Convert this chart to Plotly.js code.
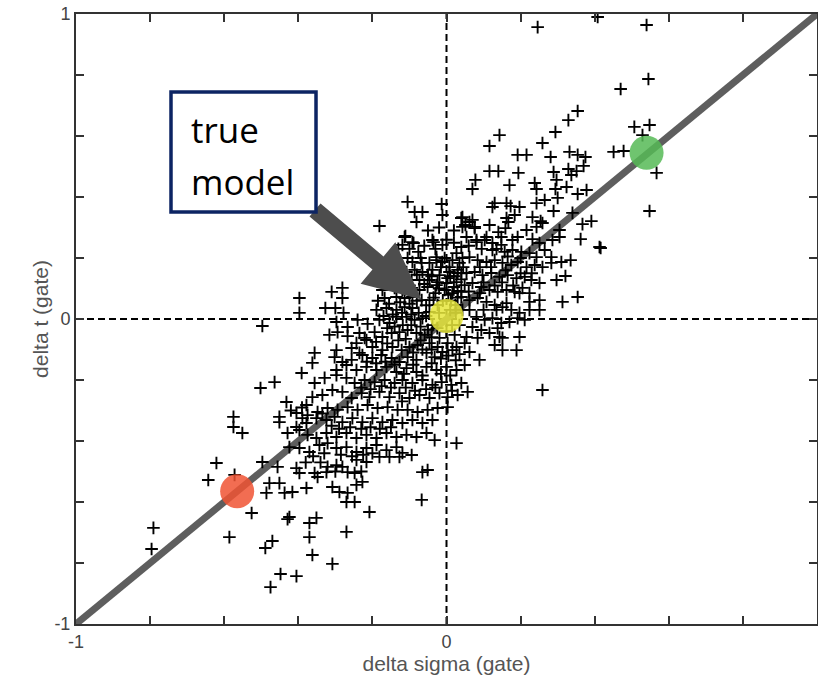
<!DOCTYPE html>
<html>
<head>
<meta charset="utf-8">
<script src="https://cdn.plot.ly/plotly-3.0.1.min.js"></script>
<style>
  html, body { margin: 0; padding: 0; background: #ffffff; }
  #chart { width: 818px; height: 677px; }
</style>
</head>
<body>
<div id="chart"></div>
<script>
// Ensemble of gate perturbations: [delta sigma, delta t]
const cloudPoints = [
  [0.246,0.957],[0.408,0.990],[0.540,0.964],[0.545,0.787],[0.470,0.754],[0.354,0.682],[0.329,0.652],[0.507,0.630],[0.548,0.636],[0.529,0.603],
  [0.451,0.548],[0.478,0.551],[0.567,0.479],[0.332,0.548],[0.354,0.538],[0.375,0.531],[0.329,0.492],[0.351,0.485],[0.370,0.502],[0.337,0.472],
  [0.324,0.433],[0.354,0.410],[0.378,0.423],[0.340,0.348],[0.367,0.311],[0.391,0.321],[0.362,0.262],[0.413,0.236],[0.548,0.354],[0.305,0.292],
  [0.305,0.269],[0.294,0.613],[0.143,0.603],[0.116,0.567],[0.259,0.577],[0.192,0.538],[0.216,0.538],[0.281,0.531],[0.116,0.485],[0.140,0.485],
  [0.194,0.479],[0.289,0.482],[0.078,0.456],[0.070,0.426],[0.170,0.439],[0.238,0.446],[0.243,0.426],[0.297,0.456],[0.294,0.426],[0.300,0.397],
  [0.265,0.390],[0.243,0.380],[0.130,0.380],[0.124,0.367],[0.162,0.380],[0.173,0.370],[0.197,0.367],[0.289,0.354],[0.162,0.331],[0.167,0.318],
  [0.184,0.341],[0.232,0.334],[0.254,0.321],[0.043,0.334],[0.051,0.308],[0.070,0.325],[0.076,0.302],[0.116,0.308],[0.140,0.285],[0.159,0.298],
  [0.216,0.292],[0.243,0.302],[0.259,0.315],[-0.086,0.351],[-0.065,0.351],[-0.081,0.318],[-0.013,0.377],[-0.011,0.341],[-0.105,0.384],[-0.181,0.305],
  [-0.111,0.272],[-0.089,0.249],[-0.038,0.259],[-0.011,0.243],[0.040,0.236],[0.081,0.259],[0.108,0.269],[0.148,0.269],[0.178,0.259],[0.192,0.269],
  [0.232,0.262],[0.251,0.249],[0.286,0.259],[0.416,0.233],[-0.035,0.252],[0.283,0.203],[0.310,0.187],[0.335,0.193],[0.297,0.128],[0.321,0.141],
  [0.354,0.072],[0.313,0.056],[0.251,0.062],[0.224,0.056],[0.197,0.085],[0.162,0.052],[0.135,0.030],[0.197,-0.059],[0.151,-0.062],[0.040,0.331],
  [0.062,0.318],[0.043,0.302],[0.076,0.298],[0.054,0.269],[0.081,0.252],[0.103,0.259],[0.124,0.249],[0.148,0.243],[0.124,0.226],[0.157,0.220],
  [0.178,0.226],[0.202,0.220],[0.224,0.216],[0.243,0.203],[0.265,0.226],[0.027,0.216],[0.043,0.200],[0.062,0.203],[0.084,0.193],[0.108,0.187],
  [0.130,0.193],[0.151,0.184],[0.175,0.177],[0.192,0.187],[0.216,0.170],[0.238,0.177],[0.259,0.170],[0.283,0.184],[-0.027,0.203],[-0.011,0.187],
  [0.008,0.170],[0.030,0.161],[0.054,0.151],[0.076,0.154],[0.097,0.144],[0.121,0.151],[0.143,0.138],[0.165,0.144],[0.189,0.134],[0.211,0.138],
  [0.229,0.128],[0.251,0.118],[-0.038,0.161],[-0.019,0.144],[0.003,0.134],[0.027,0.121],[0.049,0.111],[0.070,0.118],[0.094,0.105],[0.116,0.095],
  [0.138,0.089],[0.162,0.095],[0.184,0.089],[0.205,0.102],[0.224,0.085],[-0.027,0.111],[-0.005,0.095],[0.016,0.085],[0.040,0.072],[0.062,0.062],
  [0.084,0.069],[0.108,0.056],[0.130,0.046],[0.151,0.039],[0.175,0.030],[0.197,0.020],[0.062,0.030],[0.081,0.007],[0.103,-0.003],[0.124,0.003],
  [0.148,-0.013],[0.170,-0.010],[0.192,0.003],[0.070,-0.026],[0.094,-0.036],[0.116,-0.046],[0.138,-0.030],[0.054,-0.059],[0.084,-0.062],[0.224,0.030],
  [0.251,0.030],[-0.113,0.269],[-0.092,0.252],[-0.119,0.243],[-0.140,0.210],[-0.076,0.220],[-0.092,0.187],[-0.067,0.184],[-0.046,0.184],[-0.027,0.193],
  [-0.005,0.200],[0.016,0.193],[0.035,0.184],[-0.135,0.161],[-0.108,0.154],[-0.086,0.161],[-0.065,0.154],[-0.050,0.145],[-0.015,0.170],[0.008,0.154],
  [0.030,0.151],[0.045,0.170],[-0.140,0.128],[-0.119,0.121],[-0.094,0.128],[-0.073,0.128],[-0.046,0.128],[-0.024,0.121],[0.000,0.118],[0.020,0.105],
  [0.040,0.130],[-0.173,0.095],[-0.140,0.102],[-0.119,0.095],[-0.094,0.102],[-0.073,0.095],[-0.051,0.105],[-0.030,0.085],[0.005,0.079],[0.030,0.092],
  [0.040,0.089],[-0.167,0.069],[-0.135,0.072],[-0.113,0.069],[-0.092,0.072],[-0.067,0.062],[-0.310,0.089],[-0.281,0.102],[-0.281,0.069],[-0.397,0.069],
  [-0.397,0.020],[-0.327,0.036],[-0.300,0.036],[-0.278,0.020],[-0.189,0.030],[-0.162,0.036],[-0.135,0.030],[-0.113,0.039],[-0.092,0.036],[-0.497,-0.023],
  [-0.240,-0.003],[-0.213,-0.016],[-0.297,-0.010],[-0.267,-0.026],[-0.181,-0.003],[-0.154,-0.013],[-0.135,0.007],[-0.108,0.007],[-0.086,-0.003],[-0.065,0.003],
  [-0.316,-0.052],[-0.294,-0.043],[-0.267,-0.056],[-0.235,-0.046],[-0.216,-0.069],[-0.194,-0.043],[-0.173,-0.059],[-0.148,-0.046],[-0.127,-0.043],[-0.105,-0.036],
  [-0.081,-0.046],[-0.059,-0.052],[-0.356,-0.111],[-0.297,-0.102],[-0.256,-0.095],[-0.235,-0.111],[-0.200,-0.092],[-0.173,-0.102],[-0.146,-0.092],[-0.121,-0.102],
  [-0.100,-0.092],[-0.078,-0.085],[-0.046,-0.079],[-0.024,-0.092],[0.003,-0.079],[0.027,-0.092],[0.049,-0.079],[-0.046,0.062],[-0.024,0.046],[0.024,0.046],
  [0.043,0.030],[-0.046,0.023],[-0.038,-0.020],[0.035,-0.020],[0.022,-0.052],[-0.019,-0.062],[-0.243,-0.079],[-0.221,-0.062],[-0.302,-0.125],[-0.281,-0.141],
  [-0.256,-0.134],[-0.227,-0.118],[-0.200,-0.128],[-0.176,-0.118],[-0.148,-0.128],[-0.127,-0.141],[-0.105,-0.125],[-0.081,-0.134],[-0.054,-0.111],[-0.032,-0.125],
  [-0.011,-0.108],[0.016,-0.102],[0.035,-0.115],[-0.362,-0.144],[-0.391,-0.177],[-0.297,-0.167],[-0.270,-0.151],[-0.243,-0.167],[-0.216,-0.157],[-0.189,-0.167],
  [-0.162,-0.157],[-0.135,-0.174],[-0.108,-0.161],[-0.081,-0.174],[-0.054,-0.157],[-0.027,-0.167],[0.000,-0.157],[0.027,-0.167],[0.049,-0.151],[-0.464,-0.207],
  [-0.502,-0.226],[-0.356,-0.210],[-0.329,-0.193],[-0.297,-0.184],[-0.270,-0.193],[-0.248,-0.210],[-0.221,-0.200],[-0.194,-0.207],[-0.167,-0.200],[-0.140,-0.210],
  [-0.119,-0.200],[-0.092,-0.210],[-0.065,-0.200],[-0.038,-0.216],[-0.013,-0.207],[0.013,-0.216],[0.040,-0.210],[0.057,-0.239],[-0.432,-0.272],[-0.378,-0.282],
  [-0.362,-0.256],[-0.335,-0.249],[-0.308,-0.233],[-0.281,-0.239],[-0.256,-0.259],[-0.229,-0.243],[-0.208,-0.256],[-0.181,-0.239],[-0.154,-0.256],[-0.127,-0.243],
  [-0.100,-0.259],[-0.073,-0.249],[-0.046,-0.259],[-0.019,-0.243],[0.003,-0.256],[0.030,-0.249],[0.003,-0.289],[-0.024,-0.292],[-0.051,-0.298],[-0.078,-0.305],
  [-0.105,-0.298],[-0.132,-0.298],[-0.159,-0.289],[-0.186,-0.292],[-0.213,-0.282],[-0.240,-0.298],[-0.267,-0.289],[-0.294,-0.298],[-0.321,-0.292],[-0.348,-0.305],
  [-0.375,-0.315],[-0.405,-0.308],[-0.451,-0.321],[-0.451,-0.338],[-0.389,-0.325],[-0.405,-0.354],[-0.378,-0.341],[-0.351,-0.325],[-0.324,-0.331],[-0.302,-0.321],
  [-0.281,-0.338],[-0.254,-0.325],[-0.227,-0.338],[-0.200,-0.325],[-0.173,-0.338],[-0.146,-0.331],[-0.119,-0.341],[-0.092,-0.331],[-0.065,-0.341],[-0.038,-0.331],
  [-0.575,-0.321],[-0.575,-0.354],[-0.551,-0.374],[-0.429,-0.374],[-0.397,-0.364],[-0.375,-0.380],[-0.351,-0.390],[-0.324,-0.374],[-0.297,-0.387],[-0.270,-0.374],
  [-0.243,-0.390],[-0.216,-0.380],[-0.189,-0.390],[-0.162,-0.374],[-0.135,-0.387],[-0.108,-0.380],[-0.081,-0.387],[-0.054,-0.374],[-0.032,-0.397],[0.027,-0.407],
  [-0.424,-0.420],[-0.397,-0.423],[-0.370,-0.436],[-0.343,-0.413],[-0.321,-0.407],[-0.297,-0.423],[-0.270,-0.420],[-0.243,-0.436],[-0.216,-0.423],[-0.189,-0.413],
  [-0.162,-0.430],[-0.135,-0.420],[-0.119,-0.439],[-0.094,-0.446],[-0.181,-0.452],[-0.154,-0.452],[-0.127,-0.452],[-0.216,-0.469],[-0.243,-0.462],[-0.497,-0.469],
  [-0.456,-0.485],[-0.405,-0.489],[-0.397,-0.505],[-0.356,-0.505],[-0.321,-0.485],[-0.297,-0.479],[-0.348,-0.518],[-0.324,-0.502],[-0.267,-0.502],[-0.248,-0.505],
  [-0.281,-0.485],[-0.621,-0.472],[-0.643,-0.528],[-0.572,-0.511],[-0.478,-0.538],[-0.451,-0.538],[-0.486,-0.570],[-0.437,-0.570],[-0.416,-0.567],[-0.378,-0.554],
  [-0.308,-0.551],[-0.289,-0.567],[-0.267,-0.570],[-0.270,-0.600],[-0.248,-0.600],[-0.243,-0.544],[-0.227,-0.534],[-0.065,-0.502],[-0.051,-0.495],[-0.067,-0.593],
  [-0.208,-0.633],[-0.526,-0.636],[-0.424,-0.649],[-0.429,-0.656],[-0.351,-0.652],[-0.370,-0.669],[-0.370,-0.715],[-0.270,-0.698],[-0.586,-0.715],[-0.470,-0.728],
  [-0.489,-0.751],[-0.362,-0.774],[-0.308,-0.803],[-0.448,-0.836],[-0.405,-0.843],[-0.475,-0.879],[-0.791,-0.685],[-0.796,-0.754],[0.143,-0.059],[0.151,-0.102],
  [0.189,-0.102],[0.259,-0.233],[0.062,-0.108],[0.089,-0.134],[0.130,-0.085],[0.211,-0.003],
  [-0.180,0.150],[-0.160,0.120],[-0.150,0.180],[-0.125,0.140],[-0.100,0.110],[-0.080,0.145],[-0.060,0.115],[-0.040,0.140],[-0.020,0.100],[0.010,0.140],
  [-0.185,0.060],[-0.155,0.050],[-0.125,0.055],[-0.100,0.050],[-0.080,0.060],[-0.055,0.045],[-0.035,0.070],[-0.010,0.060],[0.012,0.060],[0.030,0.070],
  [-0.170,0.010],[-0.145,0.015],[-0.120,0.020],[-0.095,0.015],[-0.075,0.020],[-0.055,0.010],[-0.020,0.020],[0.010,0.030],[0.025,0.020],[-0.160,-0.030],
  [-0.140,-0.025],[-0.118,-0.020],[-0.095,-0.020],[-0.070,-0.025],[-0.050,-0.035],[-0.025,-0.030],[0.000,-0.040],[0.015,-0.020],[-0.040,-0.060],[-0.070,-0.070],
  [-0.190,-0.075],[-0.160,-0.080],[-0.130,-0.070],[-0.110,-0.065],[-0.090,-0.110],[-0.065,-0.100],[-0.040,-0.100],[-0.015,-0.130],[0.005,-0.120],[0.025,-0.135],
  [-0.215,-0.140],[-0.190,-0.145],[-0.165,-0.140],[-0.140,-0.150],[-0.115,-0.180],[-0.090,-0.150],[-0.065,-0.185],[-0.040,-0.145],[-0.015,-0.180],[0.010,-0.185],
  [-0.230,-0.225],[-0.205,-0.230],[-0.175,-0.220],[-0.150,-0.225],[-0.110,-0.225],[-0.085,-0.235],[-0.055,-0.230],[-0.030,-0.225],[0.015,-0.235],[-0.120,-0.270],
  [0.020,0.250],[0.060,0.240],[0.095,0.230],[0.135,0.230],[0.165,0.205],[0.200,0.200],[0.020,0.140],[0.040,0.150],[0.090,0.170],[0.120,0.170],
  [0.160,0.160],[0.200,0.150],[0.230,0.150],[0.100,0.120],[0.130,0.110],[0.150,0.120],[0.180,0.110],[0.060,0.090],[0.090,0.085],[0.100,0.030],
  [-0.420,-0.300],[-0.390,-0.290],[-0.335,-0.310],[-0.310,-0.350],[-0.290,-0.360],[-0.260,-0.355],[-0.230,-0.360],[-0.205,-0.355],[-0.180,-0.360],[-0.150,-0.355],
  [-0.360,-0.450],[-0.330,-0.440],[-0.285,-0.445],[-0.255,-0.450],[-0.225,-0.445],[-0.200,-0.440],[-0.380,-0.470],[-0.340,-0.470],[-0.300,-0.500],[-0.230,-0.500],
  [-0.130,0.230],[-0.100,0.230],[-0.060,0.240],[-0.030,0.230],[0.000,0.260],[0.020,0.290],[-0.050,0.290],[-0.020,0.300],[-0.070,0.200],[-0.105,0.200]
];

// Three highlighted models on the 1:1 trade-off line
const modelSigma = [-0.565, 0.0, 0.54];
const modelT = [-0.565, 0.01, 0.545];
const modelColors = ['rgba(240,84,52,0.85)', 'rgba(230,230,60,0.85)', 'rgba(86,186,86,0.85)'];

// 1:1 trade-off line
const tradeLineSigma = [-1, 1];
const tradeLineT = [-1, 1];

const axisTickVals = [-1, 0, 1];
const axisTickText = ['-1', '0', '1'];

const cloudSigma = cloudPoints.map(p => p[0]);
const cloudT = cloudPoints.map(p => p[1]);

const traces = [
  {
    x: tradeLineSigma, y: tradeLineT,
    type: 'scatter', mode: 'lines',
    line: { color: '#5e5e5e', width: 7 },
    hoverinfo: 'skip', showlegend: false
  },
  {
    x: cloudSigma, y: cloudT,
    type: 'scatter', mode: 'markers',
    marker: { symbol: 'cross-thin', size: 9, color: '#000', line: { color: '#000', width: 1.9 } },
    showlegend: false
  },
  {
    x: modelSigma, y: modelT,
    type: 'scatter', mode: 'markers',
    marker: { size: 34, color: modelColors, line: { width: 0 } },
    showlegend: false
  }
];

const axisFont = { family: 'Liberation Sans, Arial, sans-serif', size: 18, color: '#444' };
const titleFont = { family: 'Liberation Sans, Arial, sans-serif', size: 21, color: '#555' };

function axisStyle(titleText, standoff) {
  return {
    range: [-1, 1],
    showgrid: false,
    zeroline: false,
    showline: true,
    linecolor: '#333',
    linewidth: 2,
    mirror: 'ticks',
    ticks: 'inside',
    ticklen: 8,
    tickwidth: 2,
    tickcolor: '#333',
    tickvals: axisTickVals,
    ticktext: axisTickText,
    tickfont: axisFont,
    minor: { tick0: 0, dtick: 0.2, ticks: 'inside', ticklen: 8, tickwidth: 2, tickcolor: '#333' },
    title: { text: titleText, font: titleFont, standoff: standoff },
    fixedrange: true
  };
}

// Arrow pointing at the true model (paper coordinates)
const arrowPath = 'M0.330,0.6893 L0.415,0.6025 L0.4310,0.6257 L0.4664,0.5318 L0.3841,0.5579 L0.4001,0.5811 L0.3151,0.6680 Z';

const layout = {
  width: 818,
  height: 677,
  margin: { l: 76, r: 1, t: 14, b: 53 },
  paper_bgcolor: '#fff',
  plot_bgcolor: '#fff',
  showlegend: false,
  xaxis: axisStyle('delta sigma (gate)', 6),
  yaxis: axisStyle('delta t (gate)', 0),
  shapes: [
    { type: 'line', xref: 'x', yref: 'paper', x0: 0, x1: 0, y0: 0, y1: 1, layer: 'below',
      line: { color: '#000', width: 2, dash: '7px,4px' } },
    { type: 'line', xref: 'paper', yref: 'y', x0: 0, x1: 1, y0: 0, y1: 0, layer: 'below',
      line: { color: '#000', width: 2, dash: '7px,4px' } },
    { type: 'path', xref: 'paper', yref: 'paper', path: arrowPath,
      fillcolor: '#4d4d4d', line: { width: 0 } },
    { type: 'rect', xref: 'paper', yref: 'paper', x0: 0.1282, x1: 0.3239, y0: 0.6754, y1: 0.8721,
      fillcolor: '#fff', line: { color: '#0c2463', width: 3.5 } }
  ],
  annotations: [
    { text: 'true', xref: 'paper', yref: 'paper', x: 0.1525, y: 0.8110, xanchor: 'left', yanchor: 'middle',
      showarrow: false, font: { family: 'Open Sans, sans-serif', size: 35, color: '#000' } },
    { text: 'model', xref: 'paper', yref: 'paper', x: 0.1525, y: 0.7250, xanchor: 'left', yanchor: 'middle',
      showarrow: false, font: { family: 'Open Sans, sans-serif', size: 35, color: '#000' } }
  ]
};

Plotly.newPlot('chart', traces, layout, { displayModeBar: false, staticPlot: true });
</script>
</body>
</html>
